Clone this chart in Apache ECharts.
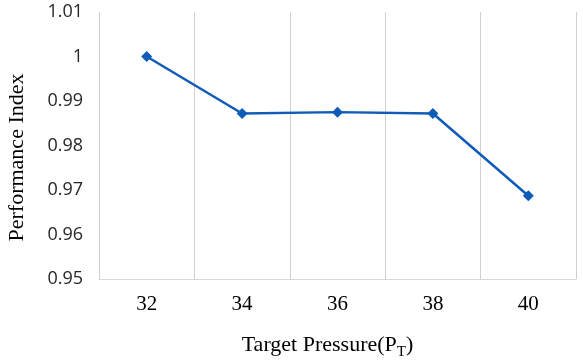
<!DOCTYPE html>
<html><head><meta charset="utf-8">
<script src="https://cdn.jsdelivr.net/npm/echarts@6/dist/echarts.min.js"></script>
<style>html,body{margin:0;padding:0;background:#fff;overflow:hidden}#c{width:583px;height:362px}</style>
</head><body><div id="c"></div>
<script>
const categories = ['32', '34', '36', '38', '40'];
const values = [1.0, 0.9872, 0.9875, 0.9872, 0.9687];
const yTicks = { min: 0.95, max: 1.01, interval: 0.01 };

const chart = echarts.init(document.getElementById('c'), null, { renderer: 'canvas' });
chart.setOption({
  animation: false,
  backgroundColor: '#fff',
  grid: { left: 99, right: 7, top: 12, bottom: 83, containLabel: false, outerBoundsMode: 'none' },
  xAxis: {
    type: 'category',
    data: categories,
    boundaryGap: true,
    axisLine: { show: true, lineStyle: { color: '#d9d9d9', width: 1 } },
    axisTick: { show: false },
    splitLine: { show: true, lineStyle: { color: '#d0d0d0', width: 1 } },
    axisLabel: { fontFamily: 'Liberation Serif', fontSize: 21, color: '#000', margin: 15 },
    name: '{n|Target Pressure(P}{s|T}{n|)}',
    nameLocation: 'middle',
    nameGap: 55,
    nameTextStyle: {
      padding: [0, 20, 0, 0],
      rich: {
        n: { fontFamily: 'Liberation Serif', fontSize: 22, color: '#000' },
        s: { fontFamily: 'Liberation Serif', fontSize: 15, color: '#000', verticalAlign: 'bottom', padding: [0, 0, -4, 0] }
      }
    }
  },
  yAxis: {
    type: 'value',
    min: yTicks.min, max: yTicks.max, interval: yTicks.interval,
    axisLine: { show: false },
    axisTick: { show: false },
    splitLine: { show: false },
    axisLabel: {
      fontFamily: 'Open Sans', fontSize: 18, color: '#262626', margin: 16,
      formatter: v => String(parseFloat(v.toFixed(2)))
    },
    name: 'Performance Index',
    nameLocation: 'middle',
    nameGap: 71,
    nameTextStyle: { fontFamily: 'Liberation Serif', fontSize: 22, color: '#000', padding: [0, 24, 0, 0] }
  },
  series: [{
    type: 'line',
    data: values,
    symbol: 'diamond',
    symbolSize: 11,
    lineStyle: { color: '#0f5cb8', width: 2.5 },
    itemStyle: { color: '#0f5cb8' }
  }]
});
</script></body></html>
